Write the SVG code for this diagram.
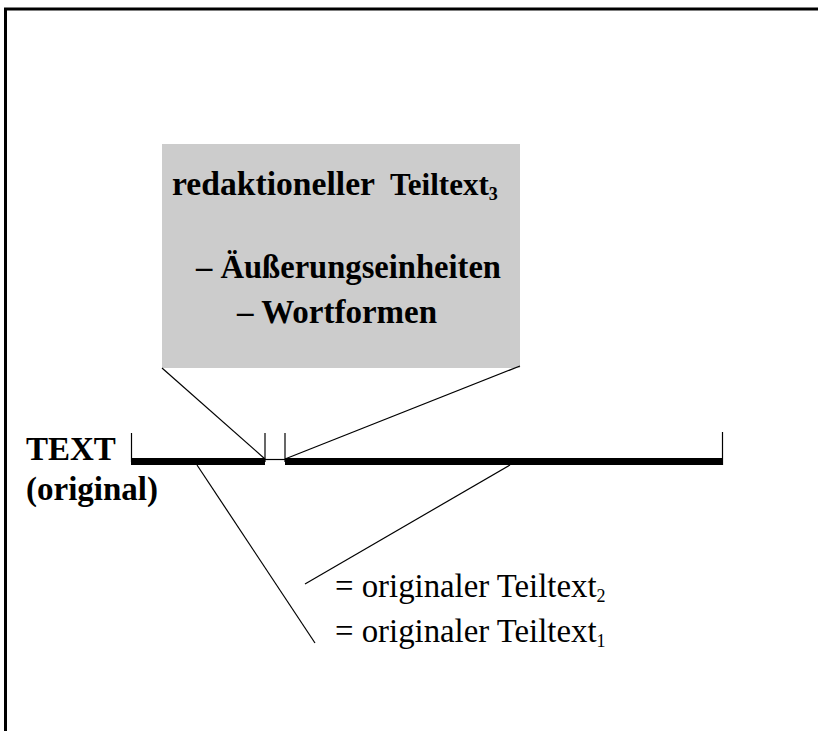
<svg xmlns="http://www.w3.org/2000/svg" width="818" height="731" viewBox="0 0 818 731">
<style>
.b{font-family:"Liberation Serif","Times New Roman",serif;font-weight:bold;fill:#000}
.r{font-family:"Liberation Serif","Times New Roman",serif;fill:#000}
.thin{stroke:#000;stroke-width:1.2;fill:none}
.bar{stroke:#000;stroke-width:7;fill:none}
</style>
<rect width="818" height="731" fill="#fff"/>
<path d="M5.5,731 V9 H818" fill="none" stroke="#000" stroke-width="3"/>
<g id="box">
<rect x="162" y="144" width="358" height="224" fill="#cccccc"/>
<text class="b" x="172" y="195" font-size="34" textLength="203" lengthAdjust="spacingAndGlyphs">redaktioneller</text>
<text class="b" x="390" y="195" font-size="31">Teiltext<tspan font-size="18" dy="5">3</tspan></text>
<text class="b" x="196" y="278" font-size="33" textLength="305" lengthAdjust="spacingAndGlyphs">– Äußerungseinheiten</text>
<text class="b" x="237" y="323" font-size="33">– Wortformen</text>
</g>
<g id="text-bar">
<text class="b" x="26" y="460" font-size="33">TEXT</text>
<text class="b" x="26" y="500" font-size="33">(original)</text>
<line class="bar" x1="131" y1="461.5" x2="265" y2="461.5"/>
<line class="bar" x1="285" y1="461.5" x2="723" y2="461.5"/>
<line class="thin" x1="265" y1="459.5" x2="285" y2="459.5"/>
<line class="thin" x1="131.5" y1="433" x2="131.5" y2="462"/>
<line class="thin" x1="265" y1="433" x2="265" y2="462"/>
<line class="thin" x1="285" y1="433" x2="285" y2="462"/>
<line class="thin" x1="722.5" y1="432" x2="722.5" y2="465"/>
</g>
<g id="labels">
<text class="r" x="335" y="597" font-size="32.8">= originaler Teiltext<tspan font-size="18" dy="5">2</tspan></text>
<text class="r" x="335" y="642" font-size="32.8">= originaler Teiltext<tspan font-size="18" dy="5">1</tspan></text>
</g>
<g id="connectors">
<line class="thin" x1="162" y1="368" x2="265" y2="459"/>
<line class="thin" x1="520" y1="366" x2="285" y2="459"/>
<line class="thin" x1="197" y1="465" x2="315" y2="643"/>
<line class="thin" x1="510" y1="465" x2="305" y2="584"/>
</g>
</svg>
